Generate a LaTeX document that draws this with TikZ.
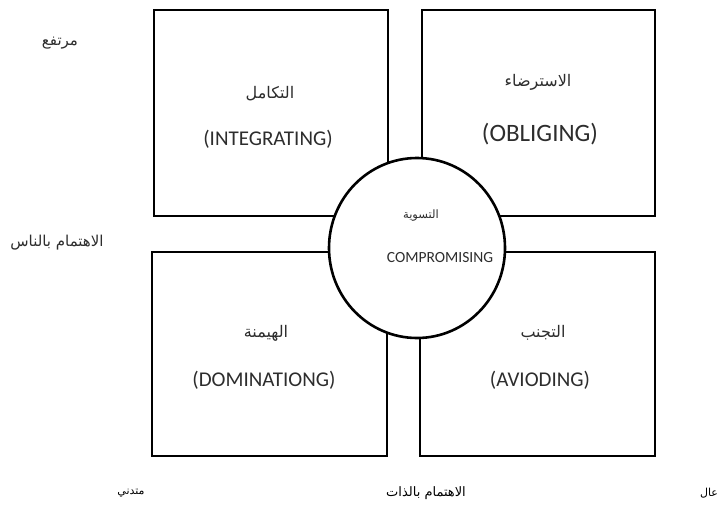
\documentclass[tikz,border=0pt]{standalone}
\usepackage{fontspec}
\setmainfont{Carlito}
\newfontfamily\arabicfont[Script=Arabic]{DejaVu Sans}
\TeXXeTstate=1
\usetikzlibrary{shapes.geometric}
\definecolor{ink}{RGB}{45,45,45}
\tikzset{
  quad/.style={draw=black, line width=2.6pt, fill=white},
  arlabel/.style={text=ink, inner sep=0pt, font=\arabicfont\fontsize{16}{18}\selectfont},
  enlabel/.style={text=ink, inner sep=0pt, font=\fontsize{21}{24}\selectfont},
  axislabel/.style={text=ink, inner sep=0pt, font=\arabicfont\fontsize{15}{17}\selectfont},
  footlabel/.style={text=black, inner sep=0pt, font=\arabicfont\fontsize{11}{13}\selectfont},
}
\newcommand{\ar}[1]{\beginR #1\endR}
\begin{document}
\begin{tikzpicture}[x=1pt,y=-1pt]
  \useasboundingbox (0,0) rectangle (722,513);
  % the four style quadrants
  \draw[quad] (154,10) rectangle (388,216);
  \draw[quad] (422,10) rectangle (655,216);
  \draw[quad] (152,252) rectangle (387,456);
  \draw[quad] (420,252) rectangle (655,456);
  % central compromise ellipse
  \node[ellipse, draw=black, line width=2.6pt, fill=white,
        minimum width=176pt, minimum height=180pt, inner sep=0pt] (comp) at (417,248) {};

  % quadrant labels
  \node[arlabel] (integAr) at (270,94) {\ar{التكامل}};
  \node[enlabel] (integEn) at (268,139) {(INTEGRATING)};
  \node[arlabel] (oblAr) at (538,82) {\ar{الاسترضاء}};
  \node[enlabel, font=\fontsize{25}{28}\selectfont] (oblEn) at (540,134) {(OBLIGING)};
  \node[arlabel] (domAr) at (266,333) {\ar{الهيمنة}};
  \node[enlabel] (domEn) at (264,380) {(DOMINATIONG)};
  \node[arlabel] (avAr) at (543,333) {\ar{التجنب}};
  \node[enlabel] (avEn) at (540,380) {(AVIODING)};
  \node[arlabel, font=\arabicfont\fontsize{11.5}{13}\selectfont] (compAr) at (421,216) {\ar{التسوية}};
  \node[enlabel, font=\fontsize{15.5}{18}\selectfont] (compEn) at (440,258) {COMPROMISING};

  % axis labels
  \node[axislabel] (high) at (60,43) {\ar{مرتفع}};
  \node[axislabel] (people) at (57,243) {\ar{الاهتمام بالناس}};
  \node[footlabel] (low) at (131,493) {\ar{متدني}};
  \node[footlabel, font=\arabicfont\fontsize{13}{15}\selectfont] (self) at (426,493) {\ar{الاهتمام بالذات}};
  \node[footlabel] (hiself) at (709,493) {\ar{عال}};
\end{tikzpicture}
\end{document}
